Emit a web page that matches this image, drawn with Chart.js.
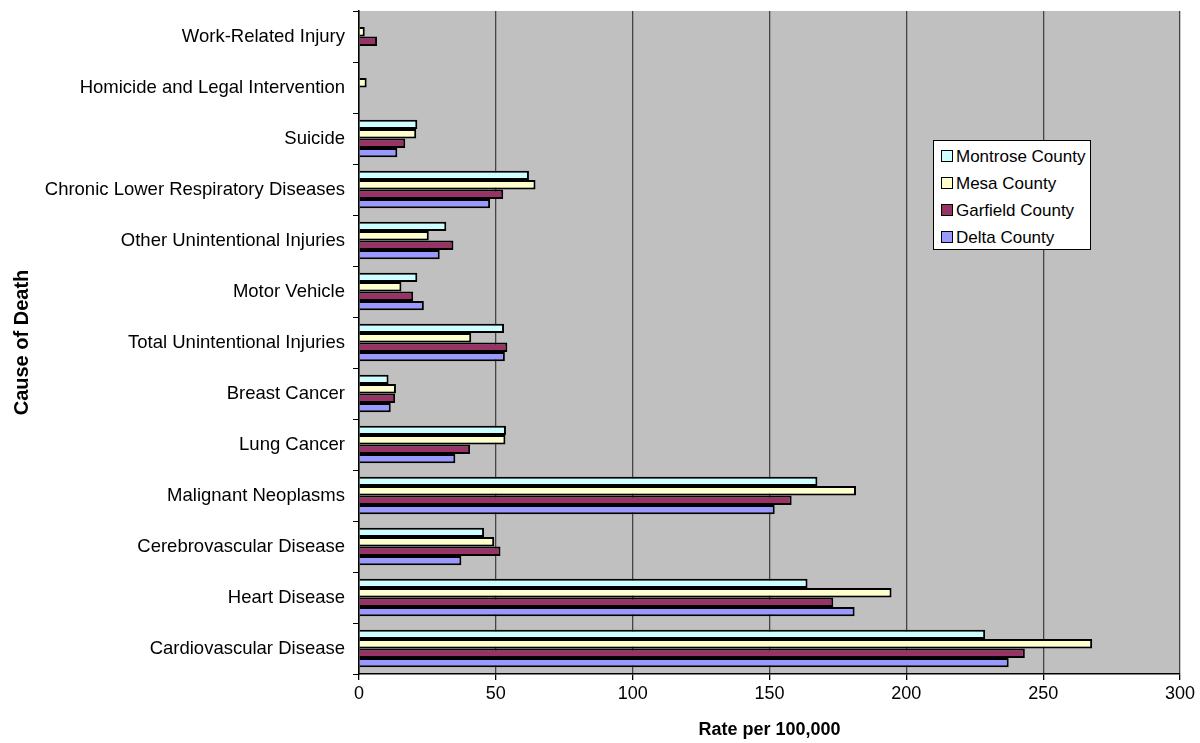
<!DOCTYPE html>
<html>
<head>
<meta charset="utf-8">
<script src="https://cdn.jsdelivr.net/npm/chart.js@4.4.1/dist/chart.umd.min.js"></script>
<style>
  html, body { margin: 0; padding: 0; background: #fff; }
  #wrap { position: relative; width: 1200px; height: 743px; }
  #legend {
    position: absolute; left: 933px; top: 140px; width: 158px; height: 110px;
    background: #fff; border: 1px solid #000; box-sizing: border-box;
    font-family: "Liberation Sans", Arial, sans-serif; font-size: 17px; color: #000;
    padding: 2px 0 0 7px;
  }
  #legend div { height: 27px; line-height: 27px; white-space: nowrap; }
  #legend span.box {
    display: inline-block; width: 10px; height: 10px; border: 1px solid #000;
    margin-right: 3px; vertical-align: 0px;
  }
</style>
</head>
<body>
<div id="wrap">
  <canvas id="chart" width="1200" height="743"></canvas>
  <div id="legend"></div>
</div>
<script>
const causes = [
  'Work-Related Injury',
  'Homicide and Legal Intervention',
  'Suicide',
  'Chronic Lower Respiratory Diseases',
  'Other Unintentional Injuries',
  'Motor Vehicle',
  'Total Unintentional Injuries',
  'Breast Cancer',
  'Lung Cancer',
  'Malignant Neoplasms',
  'Cerebrovascular Disease',
  'Heart Disease',
  'Cardiovascular Disease'
];

const montrose = [null, null, 21.3, 62.1, 31.9, 21.3, 53.0, 10.8, 53.7, 167.5, 45.7, 163.9, 228.8];
const mesa     = [2.1, 2.8, 20.9, 64.5, 25.5, 15.5, 41.0, 13.5, 53.5, 181.6, 49.4, 194.6, 267.9];
const garfield = [6.6, null, 16.9, 52.7, 34.5, 19.8, 54.2, 13.2, 40.6, 158.1, 51.7, 173.3, 243.3];
const delta    = [null, null, 14.0, 47.9, 29.5, 23.7, 53.3, 11.6, 35.2, 151.9, 37.4, 181.1, 237.4];

const seriesNames = ['Montrose County', 'Mesa County', 'Garfield County', 'Delta County'];
const seriesColors = ['#CCFFFF', '#FFFFCC', '#993366', '#9999FF'];
const xTicks = [0, 50, 100, 150, 200, 250, 300];

const font = 'Liberation Sans, Arial, sans-serif';

const plotBackground = {
  id: 'plotBackground',
  beforeDraw(chart) {
    const { ctx, chartArea: a } = chart;
    ctx.save();
    ctx.fillStyle = '#C0C0C0';
    ctx.fillRect(a.left, a.top, a.right - a.left, a.bottom - a.top);
    ctx.restore();
  }
};

const ctx = document.getElementById('chart').getContext('2d');
const chart = new Chart(ctx, {
  type: 'bar',
  data: {
    labels: causes,
    datasets: [montrose, mesa, garfield, delta].map((d, i) => ({
      label: seriesNames[i],
      data: d,
      backgroundColor: seriesColors[i],
      borderColor: '#000',
      borderWidth: 2,
      borderSkipped: 'start',
      barPercentage: 1.0,
      categoryPercentage: 0.74
    }))
  },
  options: {
    indexAxis: 'y',
    responsive: false,
    animation: false,
    layout: { padding: { left: 6, right: 20, top: 11, bottom: 0 } },
    scales: {
      x: {
        min: 0,
        max: 300,
        afterBuildTicks(scale) { scale.ticks = xTicks.map(v => ({ value: v })); },
        afterFit(scale) { scale.height = 69; },
        grid: { color: '#444', lineWidth: 1.3, tickLength: 6, tickColor: '#000' },
        border: { color: '#000', width: 1.5 },
        ticks: { color: '#000', font: { family: font, size: 18 }, padding: 3 },
        title: {
          display: true, text: 'Rate per 100,000', color: '#000',
          font: { family: font, size: 18, weight: 'bold' }, padding: { top: 0, bottom: 2 }
        }
      },
      y: {
        afterFit(scale) {
          scale.width = 353;
          scale.paddingTop = 0;
          scale.paddingBottom = 0;
        },
        grid: { drawOnChartArea: false, offset: true, tickLength: 6, tickColor: '#000' },
        border: { color: '#000', width: 1.5 },
        ticks: { color: '#000', font: { family: font, size: 18.5 }, padding: 8, autoSkip: false },
        title: {
          display: true, text: 'Cause of Death', color: '#000',
          font: { family: font, size: 20, weight: 'bold' }, padding: { bottom: 0 }
        }
      }
    },
    plugins: {
      legend: { display: false },
      tooltip: { enabled: false }
    }
  },
  plugins: [plotBackground]
});

const legend = document.getElementById('legend');
seriesNames.forEach((n, i) => {
  const row = document.createElement('div');
  row.innerHTML = '<span class="box" style="background:' + seriesColors[i] + '"></span>' + n;
  legend.appendChild(row);
});
</script>
</body>
</html>
